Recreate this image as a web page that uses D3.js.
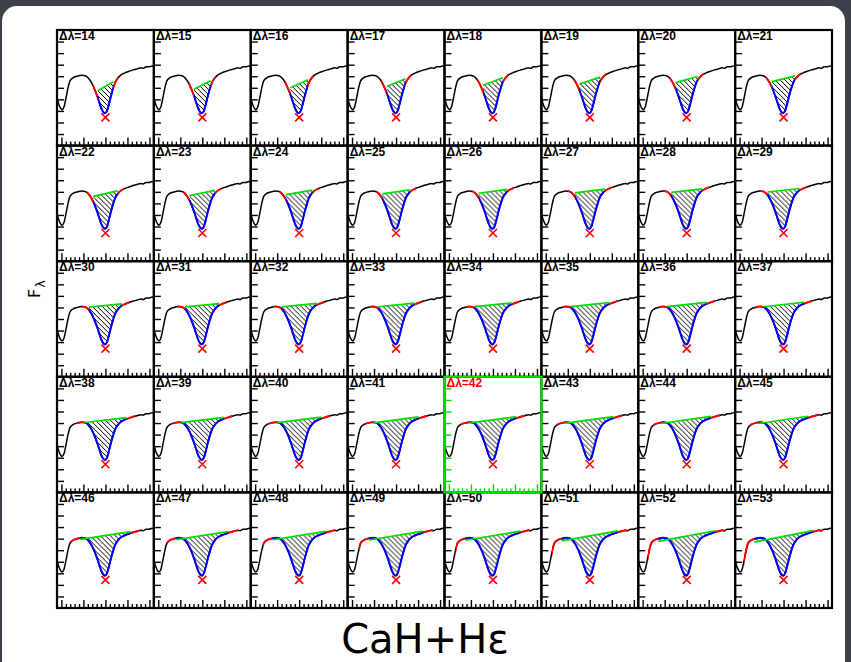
<!DOCTYPE html>
<html>
<head>
<meta charset="utf-8">
<script src="https://cdn.jsdelivr.net/npm/d3@7"></script>
<style>
  html, body { margin: 0; padding: 0; background: #3e4149; }
  svg { display: block; }
</style>
</head>
<body>
<script>
// window widths shown in the panels
var deltas = [14, 15, 16, 17, 18, 19, 20, 21,
              22, 23, 24, 25, 26, 27, 28, 29,
              30, 31, 32, 33, 34, 35, 36, 37,
              38, 39, 40, 41, 42, 43, 44, 45,
              46, 47, 48, 49, 50, 51, 52, 53];
var chosen = 42;

// the spectrum around the line (offset from line centre, normalised flux)
var waveOffset = [-44, -42.2, -40.4, -39.5, -37.6, -35.8, -34, -32.2, -29.5, -25.8,
                  -21.3, -18.5, -15.8, -13.1, -10.4, -7.6, -5.8, -4, -2.2, -0.4,
                  1.5, 3.3, 5.1, 6.9, 8.7, 11.5, 14.2, 17.8, 21.5, 25.1,
                  28.7, 32.4, 34.2, 36.9, 39.6, 42.4, 44];
var flux = [0.662, 0.566, 0.510, 0.497, 0.538, 0.662, 0.800, 0.897, 0.938, 0.959,
            0.972, 0.966, 0.938, 0.883, 0.800, 0.690, 0.607, 0.524, 0.469, 0.448,
            0.483, 0.579, 0.690, 0.786, 0.869, 0.938, 0.979, 1.007, 1.028, 1.048,
            1.062, 1.076, 1.069, 1.090, 1.090, 1.103, 1.097];
var lineCore = {x: 0, flux: 0.39};

var xDomain = [-44, 44];
var yDomain = [0, 1.6];
var xTickValues = [-40, -36, -32, -28, -24, -20, -16, -12, -8, -4, 0, 4, 8, 12, 16, 20, 24, 28, 32, 36, 40];
var xMajorTicks = [-40, -20, 0, 20, 40];
var yTickValues = [0.16, 0.32, 0.48, 0.64, 0.8, 0.96, 1.12, 1.28, 1.44];

const WIDTH = 851;
const HEIGHT = 662;
const GRID = {left: 57, top: 30, right: 832, bottom: 608};
const NCOL = 8;

var spectrum = waveOffset.map(function(w, i){ return {x: w, y: flux[i]}; });

var colScale = d3.scaleBand().domain(d3.range(NCOL))
  .range([GRID.left, GRID.right]);
var rowScale = d3.scaleBand().domain(d3.range(deltas.length / NCOL))
  .range([GRID.top, GRID.bottom]);

var xScale = d3.scaleLinear().domain(xDomain).range([0, colScale.bandwidth()]);
var yScale = d3.scaleLinear().domain(yDomain).range([rowScale.bandwidth(), 0]);

var fluxAt = function(x){
  var i = d3.bisector(function(d){ return d.x; }).left(spectrum, x);
  i = Math.max(1, Math.min(spectrum.length - 1, i));
  var a = spectrum[i - 1], b = spectrum[i];
  return a.y + (b.y - a.y) * (x - a.x) / (b.x - a.x);
};

var line = d3.line()
  .x(function(d){ return xScale(d.x); })
  .y(function(d){ return yScale(d.y); })
  .curve(d3.curveMonotoneX);

var svg = d3.select('body').append('svg')
  .attr('width', WIDTH).attr('height', HEIGHT);

svg.append('rect').attr('width', WIDTH).attr('height', HEIGHT).attr('fill', '#3e4149');
svg.append('rect').attr('x', 2).attr('y', 6).attr('width', 843).attr('height', 700)
  .attr('rx', 15).attr('fill', '#ffffff');

var defs = svg.append('defs');
defs.append('pattern').attr('id', 'hatch').attr('patternUnits', 'userSpaceOnUse')
  .attr('width', 5).attr('height', 5)
  .append('path').attr('d', 'M-1,-1 L6,6 M-1,4 L1,6 M4,-1 L6,1')
  .attr('stroke', '#000').attr('stroke-width', 1);

var drawPanel = function(d, i){
  var g = d3.select(this);
  var w = colScale.bandwidth(), h = rowScale.bandwidth();
  var isChosen = d === chosen;
  var frameColor = isChosen ? '#00e000' : '#000';

  var L = -d / 2, R = d / 2;
  var band = 3 + d * 0.12;
  var cL = fluxAt(L - band / 2), cR = fluxAt(R + band / 2);
  var continuum = function(x){ return cL + (cR - cL) * (x - L) / (R - L); };

  var clipAll = 'clipAll' + i, clipWin = 'clipWin' + i, clipBand = 'clipBand' + i;
  defs.append('clipPath').attr('id', clipAll).append('rect')
    .attr('width', w).attr('height', h);
  defs.append('clipPath').attr('id', clipWin).append('rect')
    .attr('x', xScale(L)).attr('width', xScale(R) - xScale(L)).attr('height', h);
  var cb = defs.append('clipPath').attr('id', clipBand);
  cb.append('rect').attr('x', xScale(L - band)).attr('width', xScale(L) - xScale(L - band)).attr('height', h);
  cb.append('rect').attr('x', xScale(R)).attr('width', xScale(R + band) - xScale(R)).attr('height', h);

  var inner = g.append('g').attr('clip-path', 'url(#' + clipAll + ')');

  var area = d3.area()
    .x(function(p){ return xScale(p.x); })
    .y0(function(p){ return yScale(continuum(p.x)); })
    .y1(function(p){ return yScale(p.y); })
    .curve(d3.curveMonotoneX);
  inner.append('path').attr('d', area(spectrum))
    .attr('clip-path', 'url(#' + clipWin + ')')
    .attr('fill', 'url(#hatch)');

  inner.append('path').attr('d', line(spectrum))
    .attr('fill', 'none').attr('stroke', '#000').attr('stroke-width', 1.5);
  inner.append('path').attr('d', line(spectrum))
    .attr('clip-path', 'url(#' + clipBand + ')')
    .attr('fill', 'none').attr('stroke', '#ff0000').attr('stroke-width', 2);
  inner.append('path').attr('d', line(spectrum))
    .attr('clip-path', 'url(#' + clipWin + ')')
    .attr('fill', 'none').attr('stroke', '#0000ff').attr('stroke-width', 2);

  inner.append('line')
    .attr('x1', xScale(L)).attr('y1', yScale(cL))
    .attr('x2', xScale(R)).attr('y2', yScale(cR))
    .attr('stroke', '#00dd00').attr('stroke-width', 1.7);

  var mx = xScale(lineCore.x), my = yScale(lineCore.flux), s = 4;
  inner.append('path')
    .attr('d', 'M' + (mx - s) + ',' + (my - s) + 'L' + (mx + s) + ',' + (my + s) +
               'M' + (mx - s) + ',' + (my + s) + 'L' + (mx + s) + ',' + (my - s))
    .attr('stroke', '#ff0000').attr('stroke-width', 1.6);

  // axes: ticks on the left and bottom only
  var yAxis = d3.axisRight(yScale).tickValues(yTickValues).tickSize(7).tickFormat('');
  var xAxis = d3.axisTop(xScale).tickValues(xTickValues)
    .tickSize(4).tickFormat('');
  var ya = g.append('g').call(yAxis);
  var xa = g.append('g').attr('transform', 'translate(0,' + h + ')').call(xAxis);
  xa.selectAll('.tick line')
    .attr('y2', function(t){ return xMajorTicks.indexOf(t) >= 0 ? -8 : -4; });
  [ya, xa].forEach(function(a){
    a.select('.domain').remove();
    a.selectAll('.tick line').attr('stroke', frameColor).attr('stroke-width', 1.4);
  });

  g.append('rect').attr('width', w).attr('height', h)
    .attr('fill', 'none').attr('stroke', frameColor).attr('stroke-width', 2.2);

  g.append('text').attr('x', 2).attr('y', 10)
    .attr('font-family', 'Liberation Sans, Arial, sans-serif')
    .attr('font-weight', 'bold').attr('font-size', 12)
    .attr('fill', isChosen ? '#ff0000' : '#000')
    .text('\u0394\u03bb=' + d);
};

var panels = svg.selectAll('g.panel')
  .data(deltas)
  .enter()
  .append('g')
  .attr('class', 'panel')
  .attr('transform', function(d, i){
    return 'translate(' + colScale(i % NCOL) + ',' + rowScale(Math.floor(i / NCOL)) + ')';
  })
  .each(drawPanel);

// the chosen panel's frame goes on top of its neighbours
panels.filter(function(d){ return d === chosen; }).raise();

var yTitle = svg.append('text')
  .attr('transform', 'translate(40,298) rotate(-90)')
  .attr('font-family', 'DejaVu Sans, sans-serif').attr('font-size', 16).attr('fill', '#000');
yTitle.append('tspan').text('F');
yTitle.append('tspan').attr('dx', 1).attr('dy', 5).attr('font-size', 13).text('\u03bb');

svg.append('text')
  .attr('x', 425).attr('y', 653)
  .attr('text-anchor', 'middle')
  .attr('font-family', 'Comic Sans MS, DejaVu Sans, sans-serif')
  .attr('font-size', 40).attr('fill', '#000')
  .text('CaH+H\u03b5');
</script>
</body>
</html>
